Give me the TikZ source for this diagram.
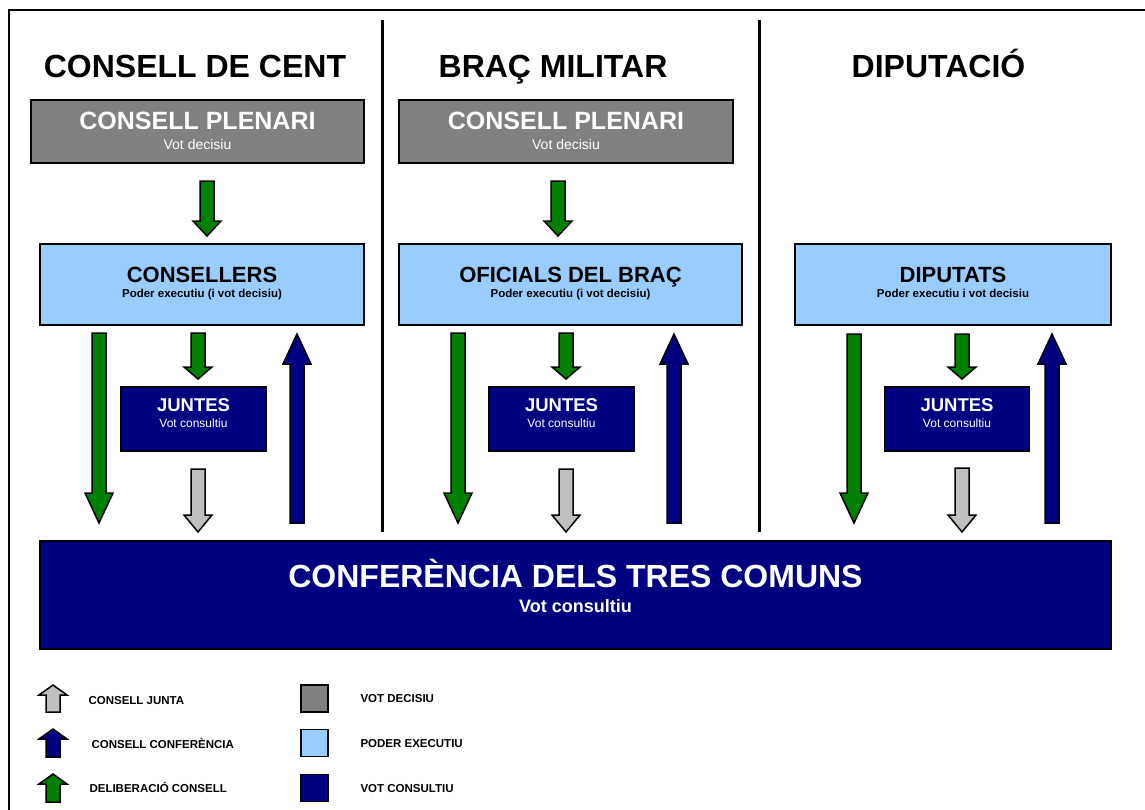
\documentclass[tikz,border=0pt]{standalone}
\usepackage{fontspec}
\setmainfont{Liberation Sans}
\usetikzlibrary{calc}

\definecolor{plengrey}{RGB}{128,128,128}
\definecolor{execblue}{RGB}{153,204,255}
\definecolor{consnavy}{RGB}{0,0,128}
\definecolor{delibgreen}{RGB}{0,128,0}
\definecolor{juntagrey}{RGB}{192,192,192}

% block arrow: fill colour, head length, tail, tip
\newcommand{\fatarrow}[4]{%
  \draw[arrowbody, fill=#1] let \p1=(#3), \p2=(#4), \p3=($(#4)!#2pt!(#3)$) in
    (\x1-7pt,\y1) -- (\x1+7pt,\y1) -- (\x1+7pt,\y3) -- (\x1+14pt,\y3)
    -- (\x2,\y2) -- (\x1-14pt,\y3) -- (\x1-7pt,\y3) -- cycle;}

\tikzset{
  frameline/.style={line width=2pt},
  divider/.style={line width=3pt},
  arrowbody/.style={draw=black, line width=1.5pt, line join=miter},
  coltitle/.style={anchor=base, font=\bfseries\fontsize{32}{38}\selectfont},
  plenbox/.style={draw, line width=1.5pt, fill=plengrey, text=white, align=center,
    minimum height=63, font=\fontsize{14}{20}\selectfont, text depth=0.7pt},
  execbox/.style={draw, line width=1.5pt, fill=execblue, align=center,
    minimum height=81, font=\bfseries\fontsize{11.5}{15.5}\selectfont, text depth=4.5pt},
  juntbox/.style={draw, line width=1.5pt, fill=consnavy, text=white, align=center,
    minimum width=145, minimum height=64, font=\fontsize{12}{15.6}\selectfont, text depth=12pt},
  legsq/.style={draw, line width=1.5pt, minimum size=27},
  leglabel/.style={anchor=base west, font=\bfseries\fontsize{11.5}{14}\selectfont}
}

\begin{document}
\begin{tikzpicture}[x=1pt, y=-1pt]
    \useasboundingbox (0,0) rectangle (1145,809);
    \draw[frameline] (1150,10) -- (8.5,10) -- (8.5,815);
    \draw[divider] (382,20) -- (382,532);
    \draw[divider] (759,20) -- (759,532);

    % titles
    \node[coltitle] (tcent) at (195,77.5) {CONSELL DE CENT};
    \node[coltitle] (tbrac) at (553,77.5) {BRAÇ MILITAR};
    \node[coltitle] (tdipu) at (938.5,77.5) {DIPUTACIÓ};

    % boxes
    \node[plenbox, minimum width=333] (plen1) at (197.5,131.5) {{\bfseries\fontsize{25}{20}\selectfont CONSELL PLENARI}\\Vot decisiu};
    \node[plenbox, minimum width=334] (plen2) at (566,131.5) {{\bfseries\fontsize{25}{20}\selectfont CONSELL PLENARI}\\Vot decisiu};

    \node[execbox, minimum width=324] (cons1) at (202,284.5) {{\fontsize{22}{15.5}\selectfont CONSELLERS}\\Poder executiu (i vot decisiu)};
    \node[execbox, minimum width=343] (cons2) at (570.5,284.5) {{\fontsize{22}{15.5}\selectfont OFICIALS DEL BRAÇ}\\Poder executiu (i vot decisiu)};
    \node[execbox, minimum width=316] (cons3) at (953,284.5) {{\fontsize{22}{15.5}\selectfont DIPUTATS}\\Poder executiu i vot decisiu};

    \node[juntbox] (junt1) at (193.5,419) {{\bfseries\fontsize{18.5}{15.6}\selectfont JUNTES}\\Vot consultiu};
    \node[juntbox] (junt2) at (561.5,419) {{\bfseries\fontsize{18.5}{15.6}\selectfont JUNTES}\\Vot consultiu};
    \node[juntbox] (junt3) at (957,419) {{\bfseries\fontsize{18.5}{15.6}\selectfont JUNTES}\\Vot consultiu};

    \node[draw, line width=1.5pt, fill=consnavy, text=white, align=center,
      minimum width=1071, minimum height=108, text depth=19pt,
      font=\bfseries\fontsize{18}{25}\selectfont] (conf) at (575.5,595)
      {{\fontsize{32}{25}\selectfont CONFERÈNCIA DELS TRES COMUNS}\\Vot consultiu};

    % arrows, consell de cent
    \fatarrow{delibgreen}{15}{207,181}{207,236}
    \fatarrow{delibgreen}{30}{99,333}{99,523}
    \fatarrow{delibgreen}{12}{198,333}{198,379}
    \fatarrow{juntagrey}{17}{198,469}{198,532}
    \fatarrow{consnavy}{30}{297,523}{297,334}
    % arrows, braç militar
    \fatarrow{delibgreen}{15}{558,181}{558,236}
    \fatarrow{delibgreen}{30}{458,333}{458,523}
    \fatarrow{delibgreen}{12}{566,333}{566,379}
    \fatarrow{juntagrey}{17}{566,469}{566,532}
    \fatarrow{consnavy}{30}{674,523}{674,334}
    % arrows, diputació
    \fatarrow{delibgreen}{30}{854,334}{854,523}
    \fatarrow{delibgreen}{12}{962,334}{962,379}
    \fatarrow{juntagrey}{17}{962,468}{962,532}
    \fatarrow{consnavy}{30}{1052,523}{1052,334}

    % legend
    \fatarrow{juntagrey}{10}{53,712}{53,685}
    \fatarrow{consnavy}{10}{53,757}{53,729}
    \fatarrow{delibgreen}{10}{53,802}{53,774}
    \node[leglabel] (ljunta) at (85,704) {CONSELL JUNTA};
    \node[leglabel] (lconf) at (88,748) {CONSELL CONFERÈNCIA};
    \node[leglabel] (ldelib) at (86,792) {DELIBERACIÓ CONSELL};

    \node[legsq, fill=plengrey] (sqdec) at (314.5,698.5) {};
    \node[legsq, fill=execblue] (sqexe) at (314.5,743) {};
    \node[legsq, fill=consnavy] (sqcon) at (314.5,788) {};
    \node[leglabel] (ldec) at (357,702.3) {VOT DECISIU};
    \node[leglabel] (lexe) at (357,747.3) {PODER EXECUTIU};
    \node[leglabel] (lcon) at (357,792.3) {VOT CONSULTIU};
\end{tikzpicture}
\end{document}
